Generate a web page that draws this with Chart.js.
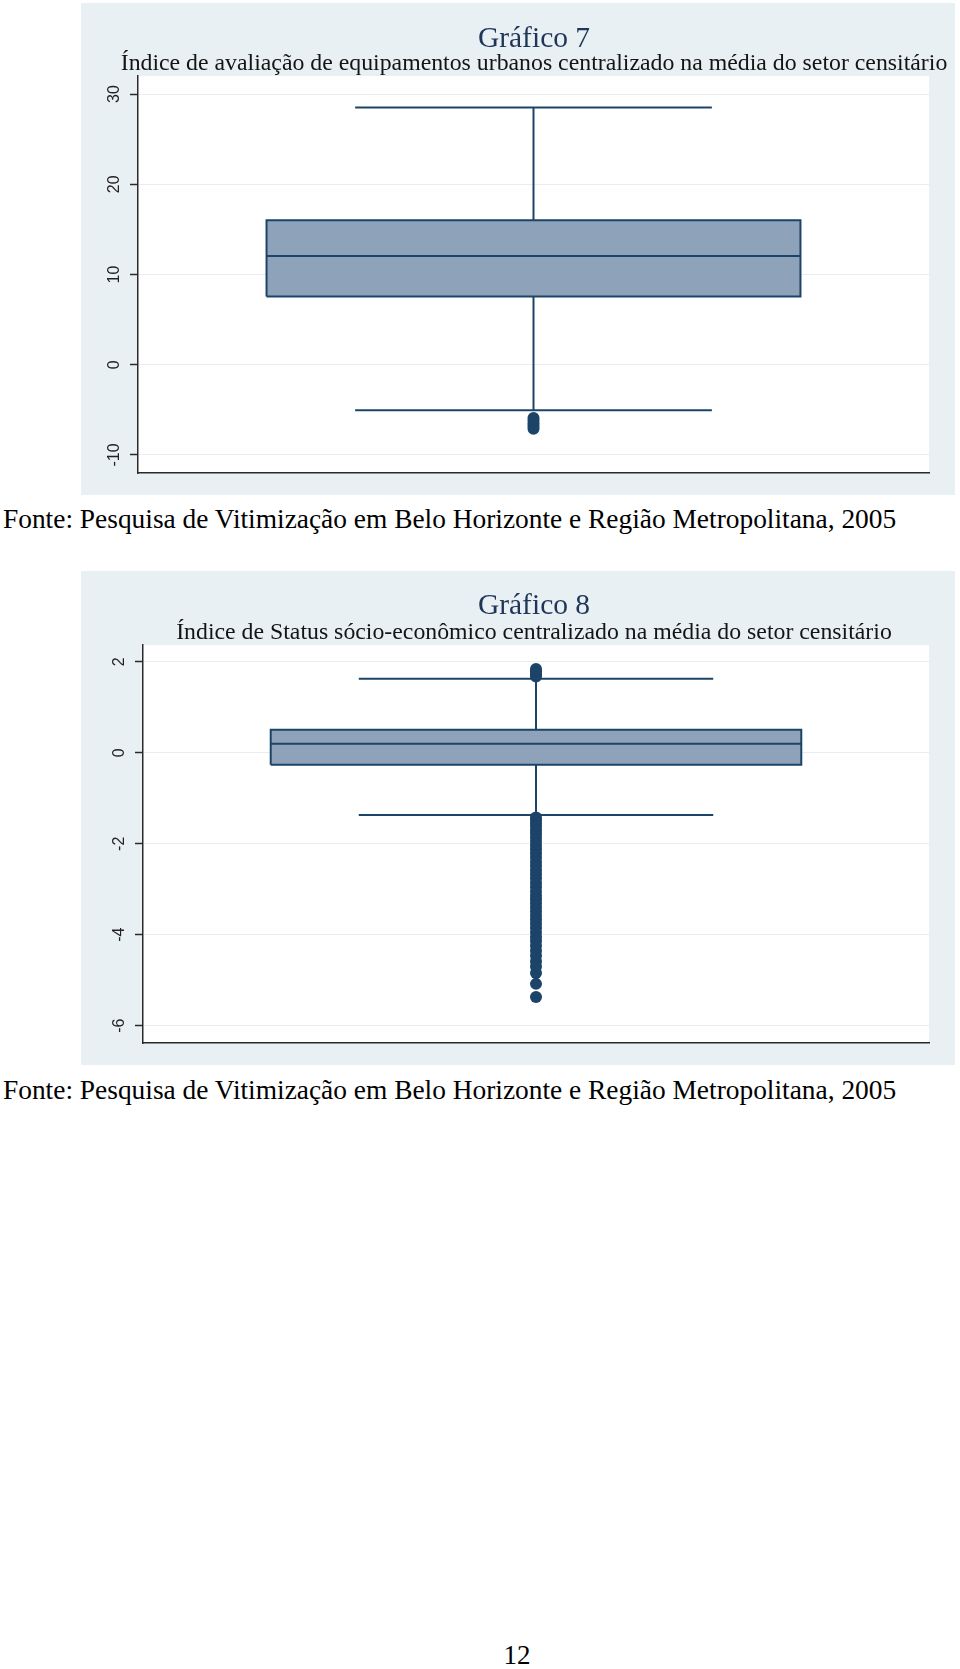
<!DOCTYPE html>
<html>
<head>
<meta charset="utf-8">
<script src="https://cdn.jsdelivr.net/npm/chart.js@4.4.1/dist/chart.umd.min.js"></script>
<style>
  body { margin: 0; background: #fff; }
  #page { position: relative; width: 960px; height: 1669px; overflow: hidden; }
  .panel { position: absolute; left: 81px; width: 874px; background: #e9f0f3; }
  .ttl, .sub { position: absolute; left: 0; width: 1068px; text-align: center; white-space: nowrap; font-family: "Liberation Serif", serif; }
  .ttl { font-size: 29.5px; line-height: 29.5px; color: #1f3659; }
  .sub { font-size: 23.8px; line-height: 23.8px; color: #141414; }
  .fonte { position: absolute; left: 3px; font: 27.4px "Liberation Serif", serif; color: #000; white-space: nowrap; }
  #pagenum { position: absolute; left: 0; width: 1034px; top: 1640px; text-align: center; font: 27px "Liberation Serif", serif; }
</style>
</head>
<body>
<div id="page">
  <div class="panel" style="top:3px;height:492px"><canvas id="g7" width="874" height="492"></canvas></div>
  <div class="ttl" style="top:23px">Gráfico 7</div>
  <div class="sub" style="top:51px">Índice de avaliação de equipamentos urbanos centralizado na média do setor censitário</div>
  <div class="fonte" style="top:504px">Fonte: Pesquisa de Vitimização em Belo Horizonte e Região Metropolitana, 2005</div>
  <div class="panel" style="top:571px;height:494px"><canvas id="g8" width="874" height="494"></canvas></div>
  <div class="ttl" style="top:590px">Gráfico 8</div>
  <div class="sub" style="top:620px">Índice de Status sócio-econômico centralizado na média do setor censitário</div>
  <div class="fonte" style="top:1075px">Fonte: Pesquisa de Vitimização em Belo Horizonte e Região Metropolitana, 2005</div>
  <div id="pagenum">12</div>
</div>
<script>
// box stats: lower whisker, q1, median, q3, upper whisker
const g7Ticks = [-10, 0, 10, 20, 30]
const g7Box = [-5.05, 7.55, 12.05, 16.0, 28.5]
const g7Outliers = [-5.9, -6.2, -6.5, -6.8, -7.1]

const g8Ticks = [-6, -4, -2, 0, 2]
const g8Box = [-1.37, -0.26, 0.20, 0.505, 1.63]
const g8OutliersHigh = [1.68, 1.72, 1.76, 1.80, 1.84]
const g8OutliersLow = [-1.42, -1.48, -1.55, -1.62, -1.70, -1.78, -1.86, -1.95, -2.04, -2.12,
  -2.21, -2.30, -2.40, -2.49, -2.58, -2.67, -2.76, -2.86, -2.95, -3.05, -3.14, -3.22,
  -3.31, -3.40, -3.49, -3.58, -3.67, -3.76, -3.85, -3.95, -4.05, -4.14, -4.24, -4.35,
  -4.46, -4.58, -4.70, -4.84, -5.08, -5.37]

const NAVY = '#1c4468'
const BOX_FILL = '#8ea3ba'
const AXIS = '#2a2a2a'
const GRID = '#e6eef1'
const BW = 0.675   // half box width on the hidden x scale
const CW = 0.451   // half whisker cap width

const plotBg = {
  id: 'plotBg',
  beforeDraw(chart) {
    const { ctx, chartArea: a } = chart
    ctx.save()
    ctx.fillStyle = '#fff'
    ctx.fillRect(a.left, a.top, a.right - a.left, a.bottom - a.top)
    ctx.restore()
  }
}

// stata style vertical tick labels
const rotatedTicks = {
  id: 'rotatedTicks',
  afterDraw(chart) {
    const y = chart.scales.y
    const ctx = chart.ctx
    ctx.save()
    ctx.fillStyle = '#222'
    ctx.font = '16px "Liberation Sans", Arial, sans-serif'
    ctx.textAlign = 'center'
    ctx.textBaseline = 'middle'
    y.ticks.forEach(t => {
      ctx.save()
      ctx.translate(chart.chartArea.left - 23, y.getPixelForValue(t.value))
      ctx.rotate(-Math.PI / 2)
      ctx.fillText(String(t.value), 0, 0)
      ctx.restore()
    })
    ctx.restore()
  }
}

function boxDatasets(box, outliers) {
  const [lo, q1, med, q3, hi] = box
  const line = (pts, extra) => Object.assign({
    data: pts, borderColor: NAVY, borderWidth: 2, pointRadius: 0, fill: false, order: 0
  }, extra)
  return [
    line([{ x: -BW, y: q3 }, { x: BW, y: q3 }], {
      borderColor: 'rgba(0,0,0,0)', fill: { target: { value: q1 }, above: BOX_FILL, below: BOX_FILL }, order: 5
    }),
    line([{ x: -BW, y: q1 }, { x: -BW, y: q3 }, { x: BW, y: q3 }, { x: BW, y: q1 }, { x: -BW, y: q1 }]),
    line([{ x: -BW, y: med }, { x: BW, y: med }]),
    line([{ x: 0, y: q3 }, { x: 0, y: hi }]),
    line([{ x: -CW, y: hi }, { x: CW, y: hi }]),
    line([{ x: 0, y: q1 }, { x: 0, y: lo }]),
    line([{ x: -CW, y: lo }, { x: CW, y: lo }]),
    {
      data: outliers.map(v => ({ x: 0, y: v })), showLine: false, pointRadius: 6,
      pointBackgroundColor: NAVY, pointBorderWidth: 0, order: 0
    }
  ]
}

function makeChart(id, box, outliers, ticks, yMin, yMax, yWidth, xHeight, top) {
  new Chart(document.getElementById(id), {
    type: 'line',
    data: { datasets: boxDatasets(box, outliers) },
    options: {
      responsive: false,
      animation: false,
      events: [],
      layout: { padding: { top: top, right: 26 } },
      plugins: {
        legend: { display: false },
        tooltip: { enabled: false }
      },
      scales: {
        x: {
          type: 'linear', min: -1, max: 1,
          grid: { display: false },
          ticks: { display: false },
          border: { display: true, color: AXIS, width: 1.5 },
          afterFit: s => { s.height = xHeight }
        },
        y: {
          min: yMin, max: yMax,
          afterBuildTicks: s => { s.ticks = ticks.map(v => ({ value: v })) },
          ticks: { display: false },
          grid: { color: GRID, lineWidth: 1, drawTicks: true, tickLength: 8, tickColor: AXIS, tickWidth: 1.5 },
          border: { color: AXIS, width: 1.5 },
          afterFit: s => { s.width = yWidth }
        }
      }
    },
    plugins: [plotBg, rotatedTicks]
  })
}

makeChart('g7', g7Box, g7Outliers, g7Ticks, -12, 32, 57, 22, 73)
makeChart('g8', g8Box, g8OutliersHigh.concat(g8OutliersLow), g8Ticks, -6.38, 2.37, 62, 22, 74)
</script>
</body>
</html>
